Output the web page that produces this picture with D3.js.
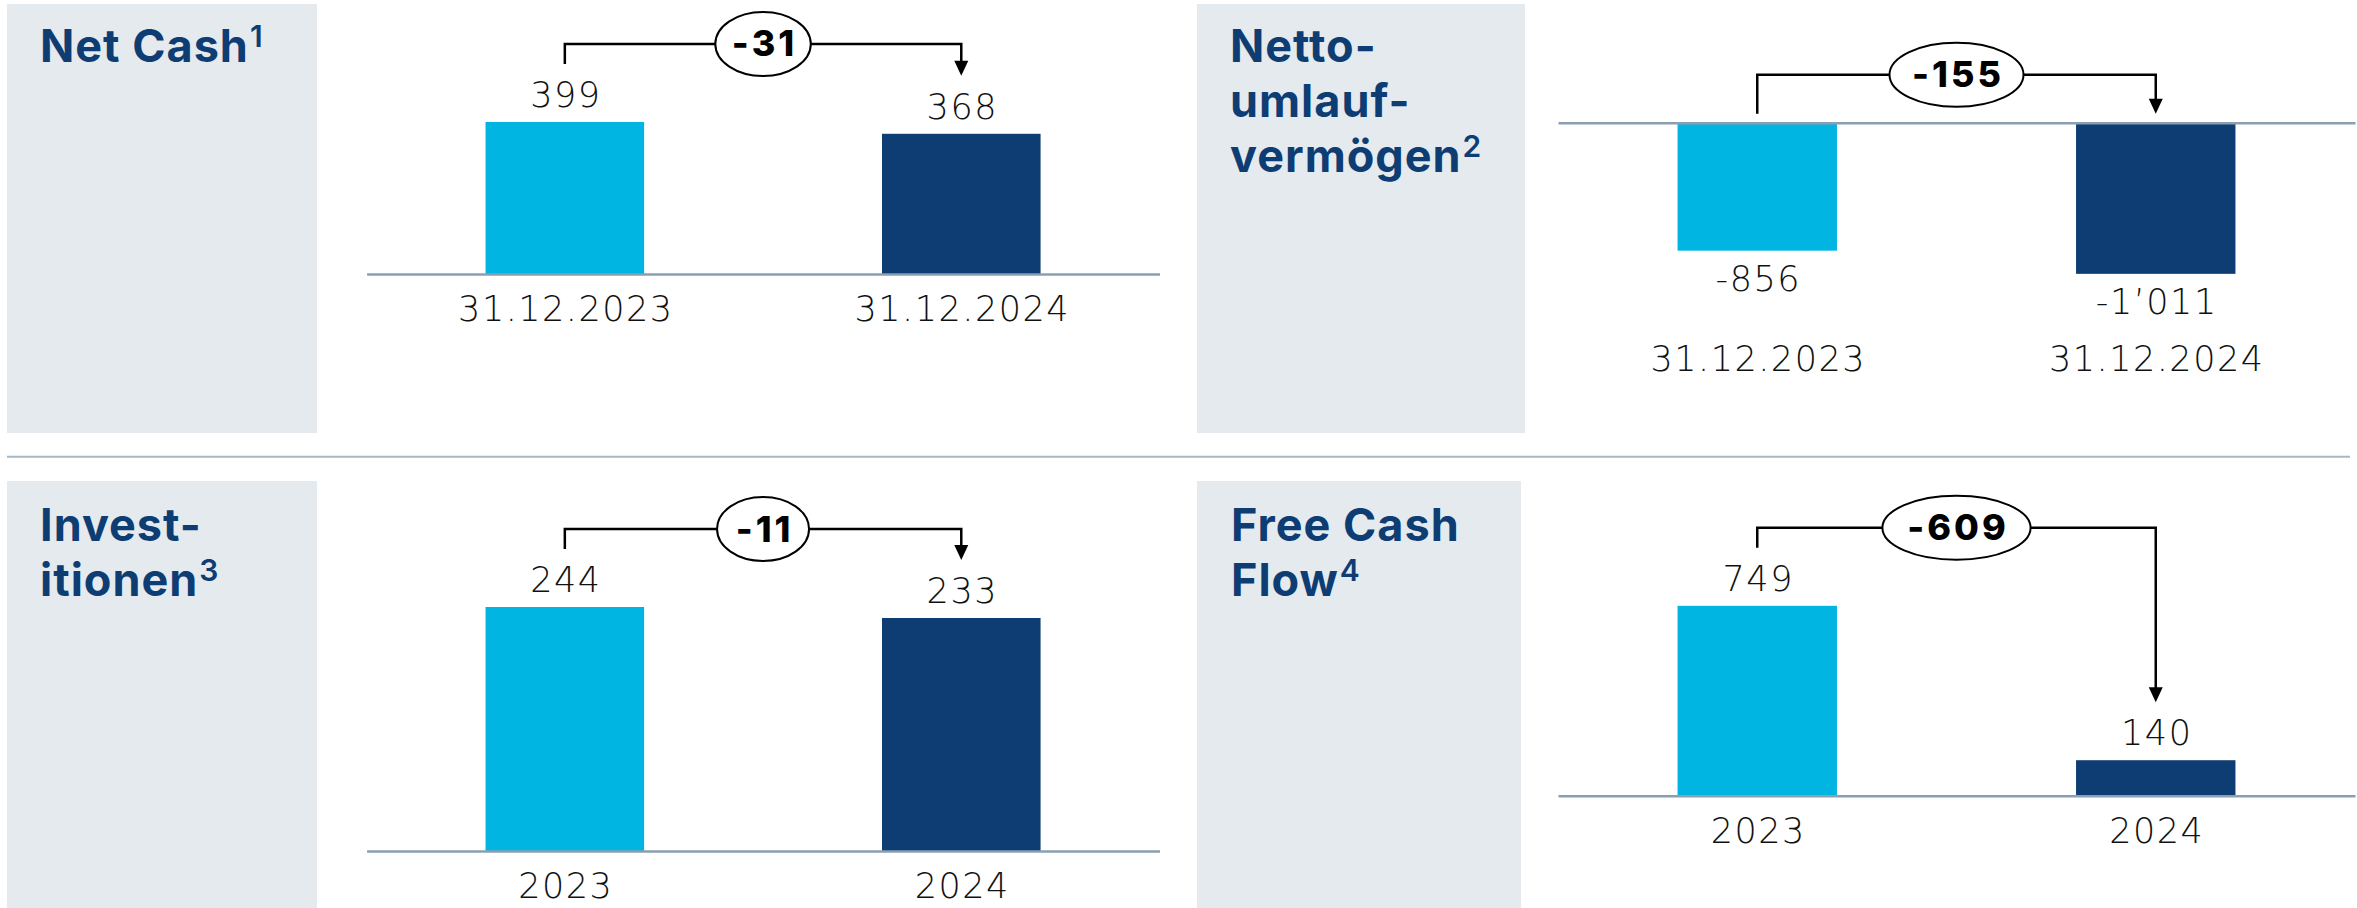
<!DOCTYPE html>
<html>
<head>
<meta charset="utf-8">
<script src="https://cdn.jsdelivr.net/npm/d3@7"></script>
<style>
  html, body { margin: 0; padding: 0; background: #fff; }
  svg { display: block; }
</style>
</head>
<body>
<svg></svg>
<script>
// --- data ---
const titles = [['Net Cash'], ['Netto-', 'umlauf-', 'vermögen'], ['Invest-', 'itionen'], ['Free Cash', 'Flow']];
const footnotes = ['1', '2', '3', '4'];
const dateLabels = ['31.12.2023', '31.12.2024'];
const yearLabels = ['2023', '2024'];
const netCash = [399, 368];
const nettoUmlauf = [-856, -1011];
const investitionen = [244, 233];
const freeCashFlow = [749, 140];
const changes = [-31, -155, -11, -609];

// --- layout ---
const svgWidth = 2357;
const svgHeight = 908;
const colors = ['#00b5e2', '#0d3d73'];
const titleColor = '#0d3d73';
const labelFont = '"DejaVu Sans", Inter, sans-serif';
const boldFont = 'Inter, "Open Sans", sans-serif';

const panels = [
    { cats: dateLabels, values: netCash, box: [7, 4, 310, 429], title: [40, 62], xr: [366.6, 1159.5], axisY: 274, ppu: 0.381 },
    { cats: dateLabels, values: nettoUmlauf, box: [1197, 4, 328, 429], title: [1230, 62], xr: [1558, 2355], axisY: 122.7, ppu: 0.1495 },
    { cats: yearLabels, values: investitionen, box: [7, 481, 310, 427], title: [40, 541], xr: [366.6, 1159.5], axisY: 851, ppu: 1.0 },
    { cats: yearLabels, values: freeCashFlow, box: [1197, 481, 324, 427], title: [1231, 541], xr: [1558, 2355], axisY: 795.7, ppu: 0.2535 }
];

const fmt = d3.formatLocale({ decimal: '.', thousands: '’', grouping: [3], currency: ['', ''], minus: '-' }).format(',d');

const svg = d3.select('svg')
    .attr('width', svgWidth)
    .attr('height', svgHeight);

// divider between rows
svg.append('line')
    .attr('x1', 7).attr('x2', 2350)
    .attr('y1', 456.7).attr('y2', 456.7)
    .attr('stroke', '#a7b7c4')
    .attr('stroke-width', 2);

panels.forEach((p, pi) => {
    const g = svg.append('g');

    // grey title box
    g.append('rect')
        .attr('x', p.box[0]).attr('y', p.box[1])
        .attr('width', p.box[2]).attr('height', p.box[3])
        .attr('fill', '#e5eaef');

    const title = g.append('text')
        .attr('x', p.title[0])
        .attr('y', p.title[1])
        .attr('fill', titleColor)
        .attr('font-family', boldFont)
        .attr('font-weight', 700)
        .attr('font-size', '45px')
        .attr('letter-spacing', '1px');
    titles[pi].forEach((line, li) => {
        title.append('tspan')
            .attr('x', p.title[0])
            .attr('dy', li === 0 ? 0 : 55)
            .text(line);
        if (li === titles[pi].length - 1) {
            title.append('tspan')
                .attr('dx', 1)
                .attr('dy', -15)
                .attr('font-size', '30px')
                .attr('font-weight', 600)
                .text(footnotes[pi]);
        }
    });

    const x = d3.scaleBand()
        .domain(p.cats)
        .range(p.xr)
        .paddingInner(0.6)
        .paddingOuter(0.3);

    const y = d3.scaleLinear()
        .domain([0, 1000])
        .range([p.axisY, p.axisY - 1000 * p.ppu]);

    const data = p.cats.map((c, i) => ({ cat: c, value: p.values[i], i: i }));

    g.selectAll('.bar')
        .data(data)
        .enter().append('rect')
        .attr('class', 'bar')
        .attr('x', d => x(d.cat))
        .attr('y', d => Math.min(y(d.value), y(0)))
        .attr('width', x.bandwidth())
        .attr('height', d => Math.abs(y(d.value) - y(0)))
        .attr('fill', d => colors[d.i]);

    // value labels
    const labelY = d => d.value >= 0 ? y(d.value) - 15 : y(d.value) + 40;
    g.selectAll('.val')
        .data(data)
        .enter().append('text')
        .attr('class', 'val')
        .attr('x', d => x(d.cat) + x.bandwidth() / 2 + 1)
        .attr('y', labelY)
        .attr('text-anchor', 'middle')
        .attr('font-family', labelFont)
        .attr('font-weight', 200)
        .attr('font-size', '35px')
        .attr('letter-spacing', '1.5px')
        .attr('fill', '#111')
        .text(d => fmt(d.value));

    // axis with category labels
    const lowest = d3.max(data, d => d.value < 0 ? labelY(d) + 10 : p.axisY);
    const catOffset = Math.max(p.axisY, lowest) + 47 - p.axisY;
    const axis = g.append('g')
        .attr('transform', `translate(0, ${p.axisY})`)
        .call(d3.axisBottom(x).tickSize(0).tickSizeOuter(0));
    axis.select('.domain')
        .attr('stroke', '#8aa0b2')
        .attr('stroke-width', 2.5);
    axis.selectAll('text')
        .attr('x', 1)
        .attr('y', catOffset)
        .attr('dy', 0)
        .attr('font-family', labelFont)
        .attr('font-weight', 200)
        .attr('font-size', '35px')
        .attr('letter-spacing', '1.5px')
        .attr('fill', '#111');

    // change bracket
    const cx = data.map(d => x(d.cat) + x.bandwidth() / 2);
    const legEnd = data.map(d => d.value >= 0 ? labelY(d) - 25 - 18 : p.axisY - 9);
    const lineY = data[0].value >= 0 ? d3.min(legEnd) - 20 : p.axisY - 48;
    const ann = g.append('g');
    ann.append('path')
        .attr('d', `M${cx[0]},${legEnd[0]}V${lineY}H${cx[1]}V${legEnd[1] - 14}`)
        .attr('fill', 'none')
        .attr('stroke', '#000')
        .attr('stroke-width', 2.5);
    ann.append('path')
        .attr('d', `M${cx[1] - 7},${legEnd[1] - 15}L${cx[1] + 7},${legEnd[1] - 15}L${cx[1]},${legEnd[1]}Z`)
        .attr('fill', '#000');

    const mid = (cx[0] + cx[1]) / 2;
    const ell = ann.append('ellipse')
        .attr('cx', mid).attr('cy', lineY)
        .attr('ry', 32)
        .attr('fill', '#fff')
        .attr('stroke', '#000')
        .attr('stroke-width', 2);
    const ct = ann.append('text')
        .attr('x', mid + 1.5)
        .attr('y', lineY + 12.5)
        .attr('text-anchor', 'middle')
        .attr('font-family', boldFont)
        .attr('font-weight', 800)
        .attr('font-size', '36px')
        .attr('letter-spacing', '3px')
        .attr('fill', '#000')
        .text(fmt(changes[pi]));
    const w = ct.node().getComputedTextLength();
    ell.attr('rx', Math.max(46, w * 0.73));
});
</script>
</body>
</html>
